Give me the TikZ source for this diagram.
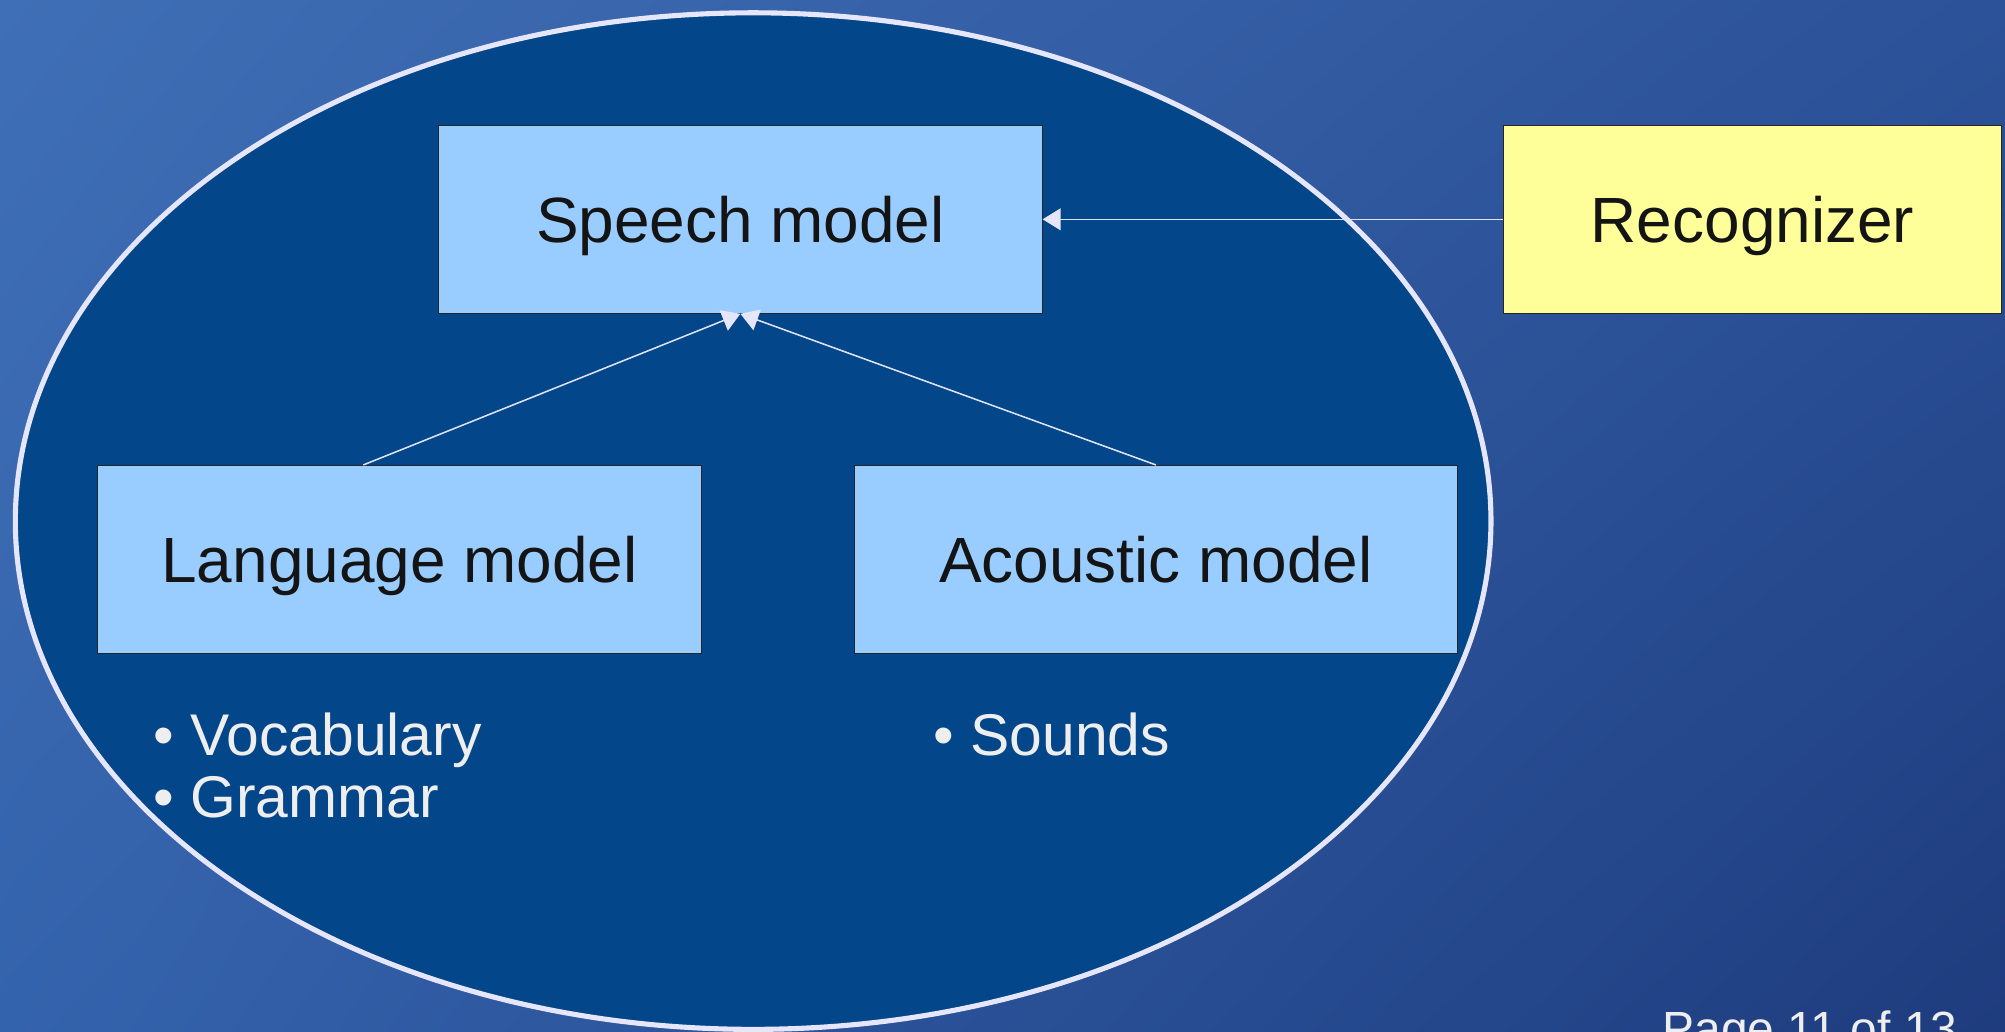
\documentclass[tikz,border=0pt]{standalone}
\usepackage{fontspec}
\setmainfont{Liberation Sans}
\usetikzlibrary{arrows.meta,calc,shapes.geometric,shadings}
\definecolor{bgA}{HTML}{3F6FB6}
\definecolor{bgB}{HTML}{1E3C7E}
\definecolor{bgC}{HTML}{2C5299}
\definecolor{bgD}{HTML}{3463AD}
\definecolor{ellfill}{HTML}{03468A}
\definecolor{lav}{HTML}{E6E6FA}
\definecolor{boxblue}{HTML}{99CCFF}
\definecolor{boxyellow}{HTML}{FFFF99}
\definecolor{txtlight}{HTML}{EEEEEE}
\tikzset{
  modelbox/.style={draw=black!85, line width=0.8pt, fill=boxblue, minimum width=472pt, minimum height=147pt, inner sep=0pt, text height=35.8pt, text depth=0pt, font=\fontsize{50}{60}\selectfont, text=black!92},
  recbox/.style={modelbox, fill=boxyellow, minimum width=389pt},
  conn/.style={draw=lav!90!boxblue, line width=1.2pt, -{Triangle[length=14pt,width=17pt,fill=lav,color=lav]}},
  bullet/.style={anchor=base west, inner sep=0pt, text=txtlight, font=\fontsize{46}{50}\selectfont},
  pagetxt/.style={anchor=base west, inner sep=0pt, text=txtlight, font=\fontsize{37.5}{40}\selectfont}
}
\begin{document}
\begin{tikzpicture}[x=1pt,y=-1pt]
\useasboundingbox (0,0) rectangle (1568,807);
\clip (0,0) rectangle (1568,807);
\shade[upper left=bgA, upper right=bgC, lower left=bgD, lower right=bgB] (0,0) rectangle (1568,807);
\draw[fill=ellfill, draw=lav, line width=4pt] (589,407.5) ellipse [x radius=577pt, y radius=397.5pt];
\node[modelbox] (speech) at (579,171.5) {Speech model};
\node[modelbox] (lang) at (312.5,437.5) {Language model};
\node[modelbox] (acou) at (904,437.5) {Acoustic model};
\node[recbox] (recog) at (1370.5,171.5) {Recognizer};
\draw[conn] ($(lang.north west)!0.44!(lang.north east)$) -- (speech.south);
\draw[conn] (acou.north) -- (speech.south);
\draw[conn] (recog.west) -- (speech.east);
\node[bullet] (vocab) at (120,590.5) {• Vocabulary};
\node[bullet] (gram) at (120,639) {• Grammar};
\node[bullet] (sounds) at (730,590.5) {• Sounds};
\node[pagetxt] (page) at (1300,818) {Page 11 of 13};
\end{tikzpicture}
\end{document}
